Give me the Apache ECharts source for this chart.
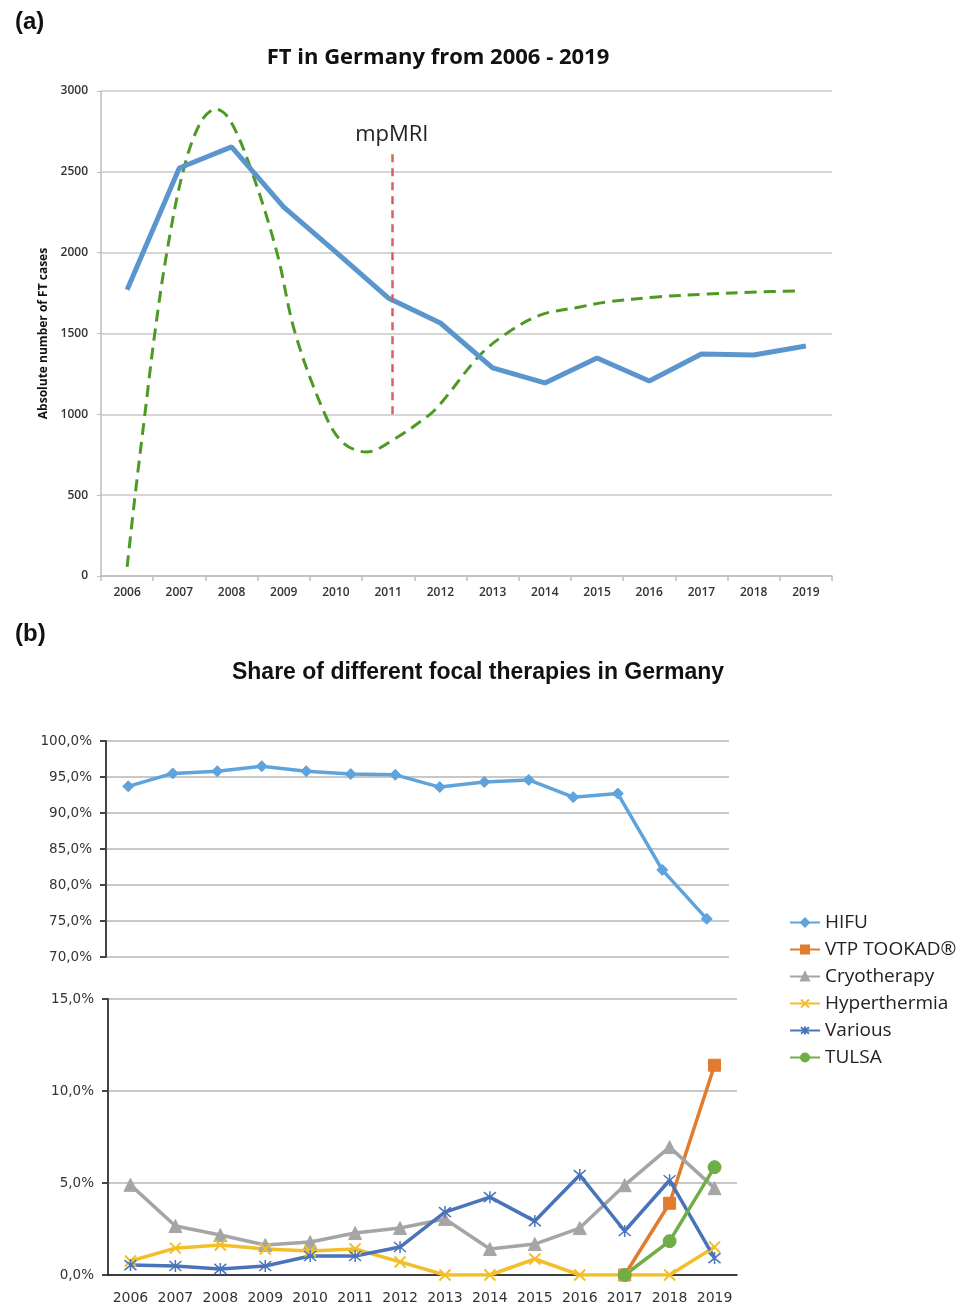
<!DOCTYPE html>
<html>
<head>
<meta charset="utf-8">
<script src="https://cdn.jsdelivr.net/npm/echarts@6/dist/echarts.min.js"></script>
<style>html,body{margin:0;padding:0;background:#fff;}#c{width:968px;height:1307px;}</style>
</head>
<body>
<div id="c"></div>
<script>
// ---- Data ----
const years = ['2006','2007','2008','2009','2010','2011','2012','2013','2014','2015','2016','2017','2018','2019'];
// (a) absolute number of FT cases
const ftCases = [1770, 2524, 2654, 2282, 2004, 1720, 1565, 1287, 1194, 1348, 1206, 1373, 1367, 1423];
// dashed trend curve, position in category units (2006 centre = 0.5) and value
const trendX = [0.50, 0.65, 0.84, 1.03, 1.26, 1.57, 1.90, 2.20, 2.47, 2.89, 3.37, 3.72, 4.29, 4.64, 5.09, 5.59, 6.30, 6.53, 7.26, 7.78, 8.41, 9.17, 9.69, 10.65, 11.61, 12.56, 13.33];
const trendY = [56, 490, 1000, 1500, 2000, 2500, 2802, 2888, 2820, 2500, 2000, 1500, 1000, 823, 767, 841, 1000, 1076, 1367, 1503, 1614, 1664, 1695, 1726, 1744, 1757, 1763];
const mpmriX = 5.57;
const mpmriRange = [1000, 2630];
// (b) share of focal therapies (%)
const hifu = [93.7, 95.5, 95.8, 96.5, 95.8, 95.4, 95.3, 93.6, 94.3, 94.6, 92.2, 92.7, 82.1, 75.3];
const vtp = [null, null, null, null, null, null, null, null, null, null, null, 0, 3.9, 11.4];
const cryo = [4.9, 2.66, 2.17, 1.63, 1.79, 2.28, 2.55, 3.04, 1.41, 1.68, 2.55, 4.88, 6.95, 4.72];
const hyper = [0.76, 1.46, 1.63, 1.41, 1.30, 1.41, 0.71, 0, 0, 0.87, 0, 0, 0, 1.52];
const various = [0.54, 0.49, 0.33, 0.49, 1.03, 1.03, 1.52, 3.42, 4.23, 2.93, 5.43, 2.39, 5.15, 0.92];
const tulsa = [null, null, null, null, null, null, null, null, null, null, null, 0, 1.84, 5.86];

const trendData = trendX.map((x, i) => [x, trendY[i]]);
const pct = v => v.toFixed(1).replace('.', ',') + '%';

const chart = echarts.init(document.getElementById('c'));
const axisTxt = {color: '#333', fontFamily: 'DejaVu Sans', fontSize: 13.5};
const symX = 'path://M0,0L10,10M10,0L0,10';
const symStar = 'path://M0,0L10,10M10,0L0,10M5,-1L5,11';

function mk(name, data, color, symbol, size, extra) {
  return Object.assign({
    name, type: 'line', data, xAxisIndex: 3, yAxisIndex: 2,
    symbol, symbolSize: size, connectNulls: false,
    lineStyle: {color, width: 3.5},
    itemStyle: {color, borderColor: color, borderWidth: 1},
    z: 3
  }, extra || {});
}

chart.setOption({
  animation: false,
  backgroundColor: '#fff',
  title: [
    {text: '(a)', left: 10, top: 5, textStyle: {fontFamily: 'Liberation Sans', fontWeight: 'bold', fontSize: 24, color: '#111'}},
    {text: 'FT in Germany from 2006 - 2019', left: 433, top: 42, textAlign: 'center', textStyle: {fontFamily: 'Open Sans', fontWeight: 'bold', fontSize: 22, color: '#111'}},
    {text: '(b)', left: 10, top: 617, textStyle: {fontFamily: 'Liberation Sans', fontWeight: 'bold', fontSize: 24, color: '#111'}},
    {text: 'Share of different focal therapies in Germany', left: 473, top: 656, textAlign: 'center', textStyle: {fontFamily: 'Liberation Sans', fontWeight: 'bold', fontSize: 23, color: '#111'}}
  ],
  legend: {
    orient: 'vertical', left: 784, top: 908, itemGap: 8, itemWidth: 30, itemHeight: 10,
    data: ['HIFU', 'VTP TOOKAD®', 'Cryotherapy', 'Hyperthermia', 'Various', 'TULSA'],
    textStyle: {fontFamily: 'Open Sans', fontSize: 19, color: '#222'}
  },
  grid: [
    {left: 101, top: 91, width: 731, height: 485},
    {left: 106, top: 741, width: 623, height: 216},
    {left: 108, top: 999, width: 629, height: 276}
  ],
  xAxis: [
    {type: 'category', gridIndex: 0, data: years, boundaryGap: true,
      axisLine: {lineStyle: {color: '#bdbdbd', width: 1.5}},
      axisTick: {show: true, length: 5, lineStyle: {color: '#bdbdbd', width: 1.5}},
      axisLabel: {color: '#333', fontFamily: 'Open Sans', fontSize: 12, fontWeight: 600, margin: 11, interval: 0}},
    {type: 'value', gridIndex: 0, min: 0, max: 14, show: false},
    {type: 'category', gridIndex: 1, data: years, boundaryGap: true, show: false},
    {type: 'category', gridIndex: 2, data: years, boundaryGap: true,
      axisLine: {lineStyle: {color: '#111', width: 1.5}},
      axisTick: {show: false},
      axisLabel: Object.assign({}, axisTxt, {fontSize: 14, margin: 16, interval: 0})}
  ],
  yAxis: [
    {type: 'value', gridIndex: 0, min: 0, max: 3000, interval: 500,
      name: 'Absolute number of FT cases', nameLocation: 'middle', nameGap: 50, nameRotate: 90,
      nameTextStyle: {fontFamily: 'Open Sans', fontWeight: 'bold', fontSize: 12, color: '#111'},
      axisLine: {show: true, lineStyle: {color: '#bdbdbd', width: 1.5}},
      axisTick: {show: true, length: 4, lineStyle: {color: '#bdbdbd'}},
      splitLine: {lineStyle: {color: '#c8c8c8', width: 1.5}},
      axisLabel: {color: '#333', fontFamily: 'Open Sans', fontSize: 12, fontWeight: 600, margin: 13, formatter: v => String(v)}},
    {type: 'value', gridIndex: 1, min: 70, max: 100, interval: 5,
      axisLine: {show: true, lineStyle: {color: '#444', width: 2}},
      axisTick: {show: true, length: 6, lineStyle: {color: '#444', width: 2}},
      splitLine: {lineStyle: {color: '#c8c8c8', width: 2}},
      axisLabel: Object.assign({}, axisTxt, {formatter: pct, margin: 14})},
    {type: 'value', gridIndex: 2, min: 0, max: 15, interval: 5,
      axisLine: {show: true, lineStyle: {color: '#444', width: 2}},
      axisTick: {show: true, length: 6, lineStyle: {color: '#444', width: 2}},
      splitLine: {lineStyle: {color: '#c8c8c8', width: 2}},
      axisLabel: Object.assign({}, axisTxt, {formatter: pct, margin: 14})}
  ],
  series: [
    {name: 'FT cases', type: 'line', xAxisIndex: 0, yAxisIndex: 0, data: ftCases,
      symbol: 'none', lineStyle: {color: '#5a96cd', width: 5}, z: 3},
    {name: 'trend', type: 'line', xAxisIndex: 1, yAxisIndex: 0, data: trendData,
      symbol: 'none', smooth: 0.35, lineStyle: {color: '#4d9a22', width: 3, type: [12, 7]}, z: 2,
      markLine: {silent: true, symbol: ['none', 'none'],
        lineStyle: {color: '#d9605a', width: 2.5, type: [8, 6]},
        label: {show: true, position: 'end', formatter: 'mpMRI', fontFamily: 'Open Sans', fontSize: 22, color: '#222', distance: 5},
        data: [[{coord: [mpmriX, mpmriRange[0]]}, {coord: [mpmriX, mpmriRange[1]]}]]}},
    mk('HIFU', hifu, '#5fa3dc', 'diamond', 11, {xAxisIndex: 2, yAxisIndex: 1}),
    mk('VTP TOOKAD®', vtp, '#e17b2e', 'rect', 12),
    mk('Cryotherapy', cryo, '#a5a5a5', 'triangle', 13),
    mk('Hyperthermia', hyper, '#f2be2a', symX, 11, {itemStyle: {color: 'none', borderColor: '#f2be2a', borderWidth: 2}}),
    mk('Various', various, '#4a74b9', symStar, 12, {itemStyle: {color: 'none', borderColor: '#4a74b9', borderWidth: 1.5}}),
    mk('TULSA', tulsa, '#6fad47', 'circle', 13)
  ]
});
</script>
</body>
</html>
